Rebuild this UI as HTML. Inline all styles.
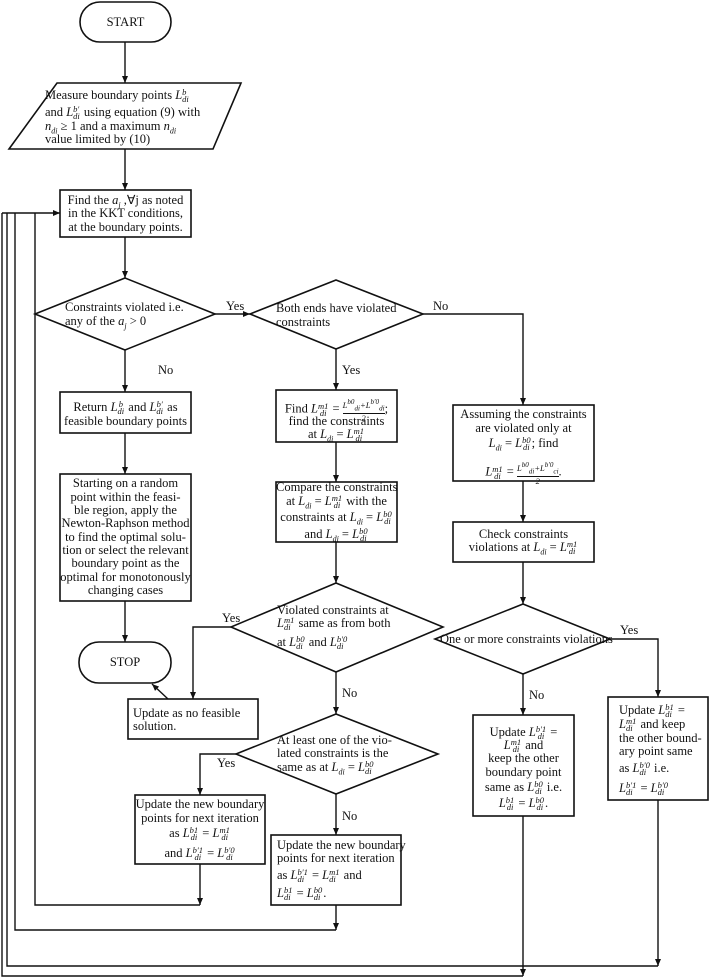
<!DOCTYPE html>
<html><head><meta charset="utf-8">
<style>
html,body{margin:0;padding:0;background:#fff;}
#w{position:relative;width:709px;height:978px;overflow:hidden;font-family:"Liberation Serif",serif;font-size:12.5px;color:#111;}
svg{position:absolute;left:0;top:0;}
.t{position:absolute;white-space:nowrap;line-height:14px;height:14px;}
.c{text-align:center;}
.s{display:inline-block;vertical-align:middle;line-height:7px;font-size:8.5px;font-style:italic;margin-right:1px;}
.s span{display:block;}
.fr{display:inline-block;vertical-align:middle;font-size:8.5px;line-height:8px;text-align:center;font-style:italic;}
.fr span{display:block;}
.fr .n{border-bottom:1px solid #111;}
</style></head><body><div id="w">
<svg width="709" height="978" viewBox="0 0 709 978">
<defs><marker id="a" markerWidth="8" markerHeight="8" refX="7" refY="4" orient="auto" markerUnits="userSpaceOnUse"><path d="M0,1 L7,4 L0,7 Z" fill="#111"/></marker></defs>
<g fill="none" stroke="#111" stroke-width="1.6">
<rect x="80" y="2" width="91" height="40" rx="20"/>
<polygon points="57,83 241,83 213,149 9,149"/>
<rect x="60" y="190" width="131" height="47"/>
<polygon points="125,278 215,314 125,350 35,314"/>
<polygon points="336,280 423,314 336,349 250,314"/>
<rect x="60" y="392" width="131" height="41"/>
<rect x="60" y="474" width="131" height="127"/>
<rect x="79" y="642" width="92" height="41" rx="20"/>
<rect x="276" y="390" width="121" height="52"/>
<rect x="276" y="482" width="121" height="60"/>
<polygon points="336,583 443,627 336,672 231,627"/>
<rect x="128" y="699" width="130" height="40"/>
<polygon points="336,714 438,754 336,794 236,754"/>
<rect x="135" y="795" width="130" height="69"/>
<rect x="271" y="835" width="130" height="70"/>
<rect x="453" y="405" width="141" height="76"/>
<rect x="453" y="522" width="141" height="40"/>
<polygon points="523,604 610,639 523,674 435,639"/>
<rect x="608" y="697" width="100" height="103"/>
<rect x="473" y="715" width="101" height="101"/>
</g>
<g fill="none" stroke="#111" stroke-width="1.4">
<line x1="125" y1="42" x2="125" y2="83" marker-end="url(#a)"/>
<line x1="125" y1="149" x2="125" y2="190" marker-end="url(#a)"/>
<line x1="125" y1="237" x2="125" y2="278" marker-end="url(#a)"/>
<line x1="215" y1="314" x2="250" y2="314" marker-end="url(#a)"/>
<polyline points="423,314 523,314 523,405" marker-end="url(#a)"/>
<line x1="125" y1="350" x2="125" y2="392" marker-end="url(#a)"/>
<line x1="125" y1="433" x2="125" y2="474" marker-end="url(#a)"/>
<line x1="125" y1="601" x2="125" y2="642" marker-end="url(#a)"/>
<line x1="336" y1="349" x2="336" y2="390" marker-end="url(#a)"/>
<line x1="336" y1="442" x2="336" y2="482" marker-end="url(#a)"/>
<line x1="336" y1="542" x2="336" y2="583" marker-end="url(#a)"/>
<polyline points="231,627 193,627 193,699" marker-end="url(#a)"/>
<line x1="168" y1="699" x2="152" y2="684" marker-end="url(#a)"/>
<line x1="336" y1="672" x2="336" y2="714" marker-end="url(#a)"/>
<polyline points="236,754 200,754 200,795" marker-end="url(#a)"/>
<line x1="336" y1="794" x2="336" y2="835" marker-end="url(#a)"/>
<line x1="523" y1="481" x2="523" y2="522" marker-end="url(#a)"/>
<line x1="523" y1="562" x2="523" y2="604" marker-end="url(#a)"/>
<polyline points="610,639 658,639 658,697" marker-end="url(#a)"/>
<line x1="523" y1="674" x2="523" y2="715" marker-end="url(#a)"/>
<line x1="200" y1="864" x2="200" y2="905" marker-end="url(#a)"/>
<polyline points="200,905 35,905 35,213"/>
<line x1="336" y1="905" x2="336" y2="930" marker-end="url(#a)"/>
<polyline points="336,930 15,930 15,213"/>
<line x1="658" y1="800" x2="658" y2="966" marker-end="url(#a)"/>
<polyline points="658,966 7,966 7,213"/>
<line x1="523" y1="816" x2="523" y2="976" marker-end="url(#a)"/>
<polyline points="523,976 2,976 2,213"/>
<line x1="2" y1="213" x2="60" y2="213" marker-end="url(#a)"/>
</g>
</svg>

<div class="t c" style="left:80px;width:91px;top:15px">START</div>

<div class="t" style="left:45px;top:88px">Measure boundary points <i>L</i><span class="s"><span>b</span><span>di</span></span></div>
<div class="t" style="left:45px;top:105px">and <i>L</i><span class="s"><span>b′</span><span>di</span></span> using equation (9) with</div>
<div class="t" style="left:45px;top:119px"><i>n<sub style="font-size:8px">di</sub></i> ≥ 1 and a maximum <i>n<sub style="font-size:8px">di</sub></i></div>
<div class="t" style="left:45px;top:132px">value limited by (10)</div>

<div class="t c" style="left:60px;width:131px;top:193px">Find the <i>a<sub style="font-size:8px">j</sub></i> ,∀j as noted</div>
<div class="t c" style="left:60px;width:131px;top:206px">in the KKT conditions,</div>
<div class="t c" style="left:60px;width:131px;top:220px">at the boundary points.</div>

<div class="t" style="left:65px;top:300px">Constraints violated i.e.</div>
<div class="t" style="left:65px;top:314px">any of the <i>a<sub style="font-size:8px">j</sub></i> &gt; 0</div>
<div class="t" style="left:226px;top:299px">Yes</div>
<div class="t" style="left:276px;top:301px">Both ends have violated</div>
<div class="t" style="left:276px;top:315px">constraints</div>
<div class="t" style="left:433px;top:299px">No</div>
<div class="t" style="left:158px;top:363px">No</div>
<div class="t" style="left:342px;top:363px">Yes</div>

<div class="t c" style="left:60px;width:131px;top:400px">Return <i>L</i><span class="s"><span>b</span><span>di</span></span> and <i>L</i><span class="s"><span>b′</span><span>di</span></span> as</div>
<div class="t c" style="left:60px;width:131px;top:414px">feasible boundary points</div>

<div class="t c" style="left:60px;width:131px;top:476px">Starting on a random</div>
<div class="t c" style="left:60px;width:131px;top:490px">point within the feasi-</div>
<div class="t c" style="left:60px;width:131px;top:503px">ble region, apply the</div>
<div class="t c" style="left:60px;width:131px;top:516px">Newton-Raphson method</div>
<div class="t c" style="left:60px;width:131px;top:530px">to find the optimal solu-</div>
<div class="t c" style="left:60px;width:131px;top:543px">tion or select the relevant</div>
<div class="t c" style="left:60px;width:131px;top:556px">boundary point as the</div>
<div class="t c" style="left:60px;width:131px;top:570px">optimal for monotonously</div>
<div class="t c" style="left:60px;width:131px;top:583px">changing cases</div>

<div class="t c" style="left:79px;width:92px;top:655px">STOP</div>

<div class="t c" style="left:276px;width:121px;top:398px">Find <i>L</i><span class="s"><span>m1</span><span>di</span></span> = <span class="fr"><span class="n">L<sup>b0</sup><sub>di</sub>+L<sup>b′0</sup><sub>di</sub></span><span>2</span></span>;</div>
<div class="t c" style="left:276px;width:121px;top:414px">find the constraints</div>
<div class="t c" style="left:276px;width:121px;top:427px">at <i>L<sub style="font-size:8px">di</sub></i> = <i>L</i><span class="s"><span>m1</span><span>di</span></span></div>

<div class="t c" style="left:276px;width:121px;top:480px">Compare the constraints</div>
<div class="t c" style="left:276px;width:121px;top:494px">at <i>L<sub style="font-size:8px">di</sub></i> = <i>L</i><span class="s"><span>m1</span><span>di</span></span> with the</div>
<div class="t c" style="left:276px;width:121px;top:510px">constraints at <i>L<sub style="font-size:8px">di</sub></i> = <i>L</i><span class="s"><span>b0</span><span>di</span></span></div>
<div class="t c" style="left:276px;width:121px;top:527px">and <i>L<sub style="font-size:8px">di</sub></i> = <i>L</i><span class="s"><span>b0</span><span>di</span></span></div>

<div class="t c" style="left:453px;width:141px;top:407px">Assuming the constraints</div>
<div class="t c" style="left:453px;width:141px;top:421px">are violated only at</div>
<div class="t c" style="left:453px;width:141px;top:436px"><i>L<sub style="font-size:8px">di</sub></i> = <i>L</i><span class="s"><span>b0</span><span>di</span></span>; find</div>
<div class="t c" style="left:453px;width:141px;top:461px"><i>L</i><span class="s"><span>m1</span><span>di</span></span> = <span class="fr"><span class="n">L<sup>b0</sup><sub>di</sub>+L<sup>b′0</sup><sub>ci</sub></span><span>2</span></span>.</div>

<div class="t c" style="left:453px;width:141px;top:527px">Check constraints</div>
<div class="t c" style="left:453px;width:141px;top:540px">violations at <i>L<sub style="font-size:8px">di</sub></i> = <i>L</i><span class="s"><span>m1</span><span>di</span></span></div>

<div class="t" style="left:277px;top:603px">Violated constraints at</div>
<div class="t" style="left:277px;top:616px"><i>L</i><span class="s"><span>m1</span><span>di</span></span> same as from both</div>
<div class="t" style="left:277px;top:635px">at <i>L</i><span class="s"><span>b0</span><span>di</span></span> and <i>L</i><span class="s"><span>b′0</span><span>di</span></span></div>
<div class="t" style="left:222px;top:611px">Yes</div>
<div class="t" style="left:342px;top:686px">No</div>

<div class="t" style="left:440px;top:632px">One or more constraints violations</div>
<div class="t" style="left:620px;top:623px">Yes</div>
<div class="t" style="left:529px;top:688px">No</div>

<div class="t" style="left:133px;top:706px">Update as no feasible</div>
<div class="t" style="left:133px;top:719px">solution.</div>

<div class="t" style="left:277px;top:733px">At least one of the vio-</div>
<div class="t" style="left:277px;top:746px">lated constraints is the</div>
<div class="t" style="left:277px;top:760px">same as at <i>L<sub style="font-size:8px">di</sub></i> = <i>L</i><span class="s"><span>b0</span><span>di</span></span></div>
<div class="t" style="left:217px;top:756px">Yes</div>
<div class="t" style="left:342px;top:809px">No</div>

<div class="t c" style="left:135px;width:130px;top:797px">Update the new boundary</div>
<div class="t c" style="left:135px;width:130px;top:811px">points for next iteration</div>
<div class="t c" style="left:135px;width:130px;top:826px">as <i>L</i><span class="s"><span>b1</span><span>di</span></span> = <i>L</i><span class="s"><span>m1</span><span>di</span></span></div>
<div class="t c" style="left:135px;width:130px;top:846px">and <i>L</i><span class="s"><span>b′1</span><span>di</span></span> = <i>L</i><span class="s"><span>b′0</span><span>di</span></span></div>

<div class="t" style="left:277px;top:838px">Update the new boundary</div>
<div class="t" style="left:277px;top:851px">points for next iteration</div>
<div class="t" style="left:277px;top:868px">as <i>L</i><span class="s"><span>b′1</span><span>di</span></span> = <i>L</i><span class="s"><span>m1</span><span>di</span></span> and</div>
<div class="t" style="left:277px;top:886px"><i>L</i><span class="s"><span>b1</span><span>di</span></span> = <i>L</i><span class="s"><span>b0</span><span>di</span></span>.</div>

<div class="t c" style="left:473px;width:101px;top:725px">Update <i>L</i><span class="s"><span>b′1</span><span>di</span></span> =</div>
<div class="t c" style="left:473px;width:101px;top:738px"><i>L</i><span class="s"><span>m1</span><span>di</span></span> and</div>
<div class="t c" style="left:473px;width:101px;top:751px">keep the other</div>
<div class="t c" style="left:473px;width:101px;top:765px">boundary point</div>
<div class="t c" style="left:473px;width:101px;top:780px">same as <i>L</i><span class="s"><span>b0</span><span>di</span></span> i.e.</div>
<div class="t c" style="left:473px;width:101px;top:796px"><i>L</i><span class="s"><span>b1</span><span>di</span></span> = <i>L</i><span class="s"><span>b0</span><span>di</span></span>.</div>

<div class="t" style="left:619px;top:703px">Update <i>L</i><span class="s"><span>b1</span><span>di</span></span> =</div>
<div class="t" style="left:619px;top:717px"><i>L</i><span class="s"><span>m1</span><span>di</span></span> and keep</div>
<div class="t" style="left:619px;top:731px">the other bound-</div>
<div class="t" style="left:619px;top:744px">ary point same</div>
<div class="t" style="left:619px;top:761px">as <i>L</i><span class="s"><span>b′0</span><span>di</span></span> i.e.</div>
<div class="t" style="left:619px;top:781px"><i>L</i><span class="s"><span>b′1</span><span>di</span></span> = <i>L</i><span class="s"><span>b′0</span><span>di</span></span></div>
</div></body></html>
